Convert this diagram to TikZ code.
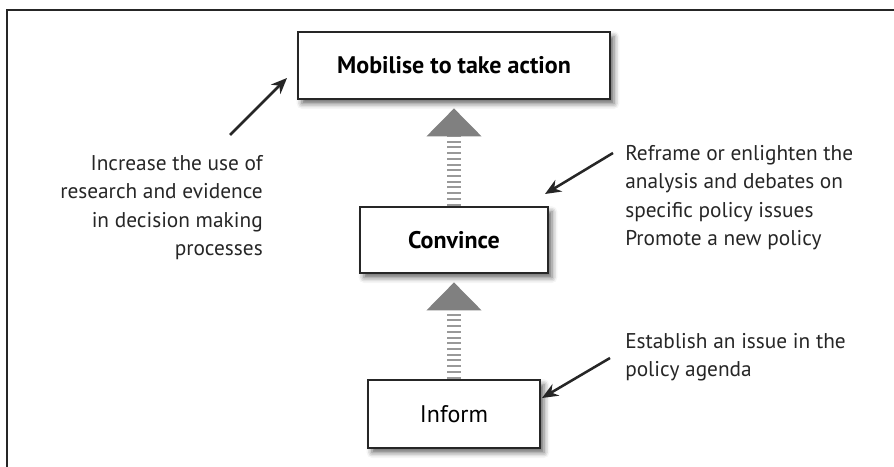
\documentclass[tikz,border=0pt]{standalone}
\usepackage{fontspec}
\setmainfont{PT Sans}
\usetikzlibrary{arrows.meta,shadows.blur}
\tikzset{
  level/.style={draw=black!85, line width=2pt, fill=white,
    font=\fontsize{18}{22}\selectfont,
    blur shadow={shadow xshift=3pt, shadow yshift=-3.5pt, shadow blur radius=4pt, shadow opacity=60}},
  note/.style={font=\fontsize{16}{21.4}\selectfont, text=black!85, inner sep=0pt},
  pointer/.style={-{Stealth[length=12pt,width=10pt]}, line width=1.9pt, black!85},
  climb/.style={-{Triangle[width=40pt,length=21pt,color=black!50]}, line width=10.5pt,
    draw=black!40, dash pattern=on 1.5pt off 2.8pt, shorten >=6pt},
}
\begin{document}
\begin{tikzpicture}[x=0.75pt,y=-0.75pt]  % ------ units are pixels of the reference -------
  \useasboundingbox (0,0) rectangle (894,467);
    \coordinate (useTail) at (230,135);
    \coordinate (useTip) at (287,78);
    \coordinate (reframeTail) at (613,153);
    \coordinate (reframeTip) at (545,194);
    \coordinate (agendaTail) at (610,358);
    \coordinate (agendaTip) at (542,398);

  \draw[line width=2pt, black!85] (7,467) -- (7,10) -- (894,10);  % frame, open at the right

  \node[level, font=\fontsize{18}{22}\selectfont\bfseries, minimum width=234pt, minimum height=50.25pt]
     (mobilise) at (454,65.5) {Mobilise to take action};
  \node[level, font=\fontsize{18}{22}\selectfont\bfseries, minimum width=141pt, minimum height=49.5pt]
     (convince) at (454,240) {Convince};
  \node[level, minimum width=129pt, minimum height=51pt] (inform) at (454,414) {Inform};

  \draw[climb] (convince) -- (mobilise);
  \draw[climb] (inform) -- (convince);

  \node[note, anchor=north east, align=right] (useNote) at (263,155)
     {Increase the use of\\research and evidence\\in decision making\\processes};
  \node[note, anchor=north west, align=left] (reframeNote) at (625,145)
     {Reframe or enlighten the\\analysis and debates on\\specific policy issues\\Promote a new policy};
  \node[note, anchor=north west, align=left] (agendaNote) at (625,333)
     {Establish an issue in the\\policy agenda};

  \draw[pointer] (useTail) -- (useTip);
  \draw[pointer] (reframeTail) -- (reframeTip);
  \draw[pointer] (agendaTail) -- (agendaTip);
\end{tikzpicture}
\end{document}
